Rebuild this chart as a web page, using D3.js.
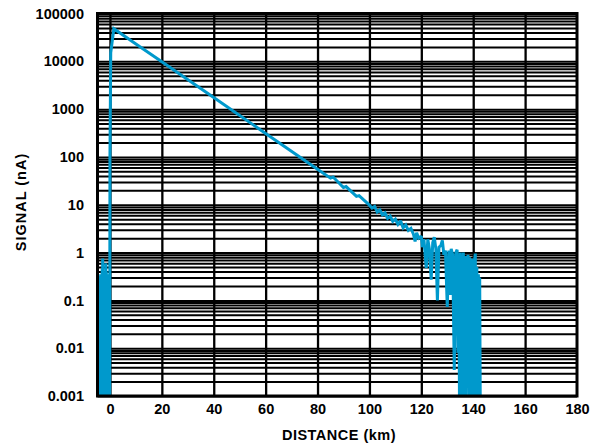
<!DOCTYPE html>
<html>
<head>
<meta charset="utf-8">
<script src="https://cdn.jsdelivr.net/npm/d3@7"></script>
<style>
  body { margin: 0; background: #fff; }
  svg { display: block; }
  text { font-family: "Liberation Sans", Arial, sans-serif; font-weight: bold; fill: #000; }
</style>
</head>
<body>
<div id="chart"></div>
<script>
// values (distance in km, signal in nA)
const distance = [
  -4.3, -4.2, -4.1, -4.0, -3.9, -3.8, -3.7, -3.6, -3.5, -3.4, -3.3, -3.2, -3.1, -3.0, -2.9, -2.8,
  -2.7, -2.6, -2.5, -2.4, -2.3, -2.2, -2.1, -2.0, -1.9, -1.8, -1.7, -1.6, -1.5, -1.4, -1.3, -1.2,
  -1.1, -1.0, -0.9, -0.8, -0.7, -0.6, -0.5, -0.4, -0.3, -0.2, -0.1,
  0.0, 0.3, 1.5,
  10, 20, 40, 60, 80, 85, 86, 90, 91, 95, 96,
  100, 101, 102, 103, 104, 105, 106, 107, 108, 109, 110, 111, 112, 113, 114, 115, 116, 117,
  117.6, 118.2, 119, 120, 120.4, 121, 121.9, 122.5, 123.1, 123.8, 124.4, 125, 125.6, 126.2,
  126.8, 127.5, 128.1, 128.7, 129.3, 130, 130.6, 131.2, 131.5, 132.1, 132.7, 133.3, 133.8,
  134.1, 134.4, 134.7, 135, 135.3, 135.6, 135.9, 136.2, 136.5, 136.8, 137.1, 137.4, 137.7,
  138.0, 138.3, 138.6, 138.9, 139.2, 139.5, 139.8, 140.1, 140.4, 140.8, 141.1, 141.4, 141.7,
  142.0, 142.3, 142.5, 142.7
];
const signal = [
  0.001, 0.3, 0.001, 0.32, 0.001, 0.3, 0.001, 0.35, 0.001, 0.3, 0.001, 0.32, 0.001, 0.45, 0.001, 0.75,
  0.001, 0.4, 0.001, 0.33, 0.001, 0.35, 0.001, 0.3, 0.001, 0.4, 0.001, 0.6, 0.001, 0.4, 0.001, 0.33,
  0.001, 0.35, 0.001, 0.3, 0.001, 0.32, 0.001, 0.3, 0.001, 0.35, 0.001,
  100, 15000, 48000,
  23000, 9800, 1750, 310, 55, 36, 38, 23, 24, 15, 15.5,
  9.8, 8.5, 9.2, 7.0, 7.8, 6.2, 6.8, 5.2, 5.8, 4.5, 5.0, 3.9, 4.6, 3.3, 3.8, 2.9, 3.2, 2.4,
  1.7, 2.6, 2.0, 2.2, 1.3, 1.9, 0.47, 1.9, 1.2, 0.27, 1.6, 2.1, 1.2, 0.1,
  1.3, 1.4, 1.8, 0.9, 1.1, 0.073, 1.1, 0.13, 1.2, 0.9, 0.0035, 1.0, 1.15,
  0.008, 0.9, 0.001, 1.0, 0.001, 0.9, 0.001, 1.0, 0.001, 0.85, 0.001, 0.8, 0.002,
  0.9, 0.001, 0.8, 0.001, 0.7, 0.001, 0.75, 0.001, 0.6, 0.95, 0.001, 0.5, 0.001,
  0.35, 0.0107, 0.3, 0.001
];
const xTicks = [0, 20, 40, 60, 80, 100, 120, 140, 160, 180];
const yTicks = [0.001, 0.01, 0.1, 1, 10, 100, 1000, 10000, 100000];
const yTickLabels = ["0.001", "0.01", "0.1", "1", "10", "100", "1000", "10000", "100000"];
const xTitle = "DISTANCE (km)";
const yTitle = "SIGNAL (nA)";

const width = 595;
const height = 447;
const plotLeft = 97.5, plotRight = 577, plotTop = 13.5, plotBottom = 396;

const x = d3.scaleLinear([-4.8, 180], [plotLeft, plotRight]);
const y = d3.scaleLog([0.001, 100000], [plotBottom, plotTop]);

const svg = d3.select("#chart").append("svg")
  .attr("width", width)
  .attr("height", height);

// horizontal grid: every 1..9 x 10^n
svg.append("g")
  .attr("transform", `translate(${plotLeft},0)`)
  .call(d3.axisLeft(y).tickValues(y.ticks()).tickSize(-(plotRight - plotLeft)).tickFormat(""))
  .call(g => g.select(".domain").remove())
  .call(g => g.selectAll("line").attr("stroke", "#000").attr("stroke-width", 2));

// vertical grid
svg.append("g")
  .attr("transform", `translate(0,${plotBottom})`)
  .call(d3.axisBottom(x).tickValues(xTicks.slice(0, -1)).tickSize(-(plotBottom - plotTop)).tickFormat(""))
  .call(g => g.select(".domain").remove())
  .call(g => g.selectAll("line").attr("stroke", "#000").attr("stroke-width", 2.3));

// signal trace
const line = d3.line()
  .x((d, i) => x(distance[i]))
  .y(d => y(d));

svg.append("path")
  .datum(signal)
  .attr("d", line)
  .attr("fill", "none")
  .attr("stroke", "#0099cc")
  .attr("stroke-width", 3)
  .attr("stroke-linejoin", "miter")
  .attr("stroke-miterlimit", 2);

// frame
svg.append("rect")
  .attr("x", plotLeft).attr("y", plotTop)
  .attr("width", plotRight - plotLeft).attr("height", plotBottom - plotTop)
  .attr("fill", "none")
  .attr("stroke", "#000")
  .attr("stroke-width", 3);

// tick labels
svg.append("g")
  .attr("transform", `translate(${plotLeft},0)`)
  .call(d3.axisLeft(y).tickValues(yTicks).tickSize(0).tickPadding(13.5)
    .tickFormat((d, i) => yTickLabels[i]))
  .call(g => g.select(".domain").remove())
  .call(g => g.selectAll("text").attr("font-size", 14.5).attr("font-family", null));

svg.append("g")
  .attr("transform", `translate(0,${plotBottom})`)
  .call(d3.axisBottom(x).tickValues(xTicks).tickSize(0).tickPadding(8))
  .call(g => g.select(".domain").remove())
  .call(g => g.selectAll("text").attr("font-size", 14.5).attr("font-family", null));

// axis titles
svg.append("text")
  .attr("x", 339).attr("y", 440)
  .attr("text-anchor", "middle")
  .attr("font-size", 14.5)
  .attr("letter-spacing", 0.5)
  .text(xTitle);

svg.append("text")
  .attr("transform", "translate(26,202) rotate(-90)")
  .attr("text-anchor", "middle")
  .attr("font-size", 14.5)
  .attr("letter-spacing", 1)
  .text(yTitle);
</script>
</body>
</html>
